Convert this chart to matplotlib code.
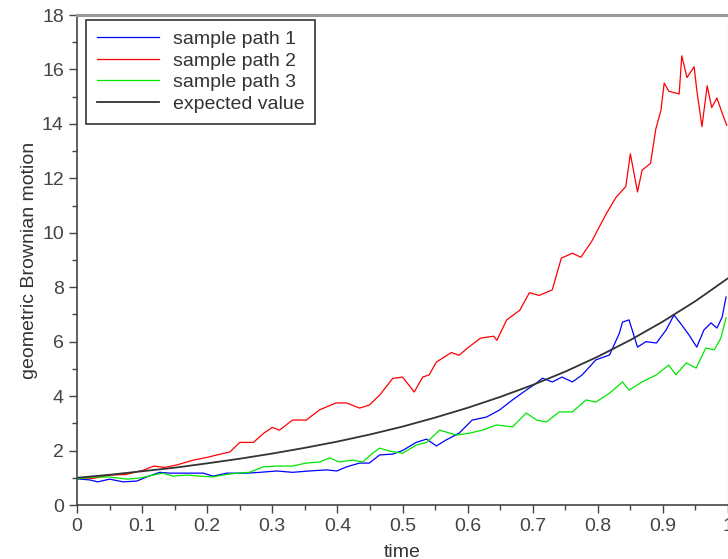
import matplotlib
matplotlib.use("Agg")
import matplotlib.pyplot as plt
from matplotlib.ticker import MultipleLocator

plt.rcParams['font.family'] = ['Liberation Sans', 'DejaVu Sans']

# values
t_path1 = [0, 0.02, 0.032, 0.05, 0.071, 0.092, 0.107, 0.127, 0.143, 0.169, 0.194, 0.209,
           0.23, 0.261, 0.281, 0.307, 0.331, 0.357, 0.383, 0.399, 0.414, 0.434, 0.449,
           0.465, 0.485, 0.5, 0.521, 0.537, 0.552, 0.567, 0.587, 0.607, 0.629, 0.649,
           0.669, 0.69, 0.706, 0.715, 0.73, 0.745, 0.761, 0.776, 0.797, 0.818, 0.833,
           0.838, 0.848, 0.861, 0.874, 0.89, 0.905, 0.917, 0.929, 0.94, 0.952, 0.963,
           0.974, 0.983, 0.991, 0.997]
y_path1 = [0.96, 0.92, 0.85, 0.95, 0.85, 0.88, 1.03, 1.2, 1.17, 1.17, 1.17, 1.06,
           1.17, 1.17, 1.2, 1.25, 1.2, 1.25, 1.29, 1.25, 1.4, 1.54, 1.54,
           1.84, 1.87, 2.0, 2.3, 2.42, 2.17, 2.39, 2.64, 3.12, 3.23, 3.49,
           3.86, 4.22, 4.48, 4.66, 4.52, 4.7, 4.52, 4.78, 5.33, 5.51, 6.3,
           6.72, 6.8, 5.8, 6.0, 5.95, 6.43, 6.98, 6.61, 6.25, 5.8, 6.43,
           6.69, 6.5, 6.9, 7.64]

t_path2 = [0, 0.025, 0.051, 0.075, 0.102, 0.118, 0.135, 0.153, 0.179, 0.2, 0.215, 0.235,
           0.25, 0.271, 0.287, 0.3, 0.311, 0.331, 0.352, 0.373, 0.398, 0.414, 0.434,
           0.449, 0.465, 0.485, 0.5, 0.506, 0.518, 0.531, 0.541, 0.552, 0.575, 0.587,
           0.6, 0.62, 0.64, 0.645, 0.66, 0.68, 0.695, 0.71, 0.73, 0.744, 0.761, 0.774,
           0.791, 0.802, 0.813, 0.828, 0.843, 0.85, 0.861, 0.868, 0.881, 0.889, 0.897,
           0.902, 0.909, 0.925, 0.929, 0.937, 0.948, 0.952, 0.96, 0.968, 0.975, 0.983,
           0.991, 0.998]
y_path2 = [1.0, 0.98, 1.1, 1.12, 1.28, 1.43, 1.38, 1.47, 1.65, 1.75, 1.84, 1.95,
           2.3, 2.3, 2.64, 2.85, 2.75, 3.12, 3.12, 3.5, 3.75, 3.75, 3.56,
           3.67, 4.04, 4.65, 4.7, 4.52, 4.15, 4.7, 4.78, 5.25, 5.6, 5.5,
           5.77, 6.13, 6.2, 6.05, 6.8, 7.15, 7.8, 7.7, 7.9, 9.07, 9.25, 9.1,
           9.7, 10.2, 10.7, 11.3, 11.7, 12.9, 11.5, 12.3, 12.55, 13.8, 14.5,
           15.5, 15.2, 15.1, 16.5, 15.7, 16.1, 15.25, 13.9, 15.4, 14.6, 14.95,
           14.4, 13.95]

t_path3 = [0, 0.025, 0.05, 0.077, 0.097, 0.117, 0.132, 0.147, 0.169, 0.189, 0.209, 0.224,
           0.245, 0.265, 0.286, 0.307, 0.331, 0.352, 0.373, 0.388, 0.403, 0.423, 0.439,
           0.454, 0.465, 0.48, 0.5, 0.521, 0.537, 0.557, 0.567, 0.583, 0.603, 0.623,
           0.644, 0.669, 0.69, 0.706, 0.721, 0.741, 0.761, 0.782, 0.797, 0.818, 0.838,
           0.848, 0.868, 0.89, 0.909, 0.92, 0.936, 0.951, 0.966, 0.979, 0.989, 0.997]
y_path3 = [0.96, 1.03, 1.03, 0.95, 0.99, 1.1, 1.17, 1.06, 1.1, 1.06, 1.03, 1.1,
           1.17, 1.2, 1.4, 1.43, 1.43, 1.54, 1.58, 1.73, 1.58, 1.65, 1.58,
           1.9, 2.09, 1.98, 1.9, 2.2, 2.3, 2.75, 2.68, 2.57, 2.64, 2.75,
           2.94, 2.87, 3.38, 3.12, 3.05, 3.42, 3.42, 3.86, 3.78, 4.11, 4.52,
           4.22, 4.52, 4.78, 5.14, 4.78, 5.22, 5.03, 5.77, 5.7, 6.13, 6.87]

t_expected = [0, 0.05, 0.1, 0.15, 0.2, 0.25, 0.3, 0.35, 0.4, 0.45, 0.5,
              0.55, 0.6, 0.65, 0.7, 0.75, 0.8, 0.85, 0.9, 0.95, 1.0]
y_expected = [1.0, 1.11, 1.24, 1.37, 1.53, 1.70, 1.89, 2.10, 2.33, 2.59, 2.88,
              3.21, 3.57, 3.97, 4.41, 4.90, 5.45, 6.06, 6.74, 7.49, 8.33]

fig = plt.figure(figsize=(7.28, 5.59), dpi=100)
ax = fig.add_axes([77/728, 54/559, 651/728, 490/559])

ax.plot(t_path1, y_path1, color='#0000ff', lw=0.9, label='sample path 1')
ax.plot(t_path2, y_path2, color='#ff0000', lw=0.9, label='sample path 2')
ax.plot(t_path3, y_path3, color='#00e600', lw=0.9, label='sample path 3')
ax.plot(t_expected, y_expected, color='#333333', lw=1.3, label='expected value')

ax.set_xlim(0, 1)
ax.set_ylim(0, 18)
ax.xaxis.set_major_locator(MultipleLocator(0.1))
ax.xaxis.set_minor_locator(MultipleLocator(0.05))
ax.yaxis.set_major_locator(MultipleLocator(2))
ax.yaxis.set_minor_locator(MultipleLocator(1))
ax.xaxis.set_major_formatter(plt.FuncFormatter(lambda v, p: '%g' % round(v, 2)))

ax.tick_params(which='major', direction='out', length=6, width=1, color='#444444',
               labelcolor='#444444', labelsize=14, top=False, right=False)
ax.tick_params(which='minor', direction='out', length=3.5, width=1, color='#444444',
               top=False, right=False)

for side in ['left', 'bottom']:
    ax.spines[side].set_color('#444444')
    ax.spines[side].set_linewidth(1.2)
ax.spines['top'].set_color('#999999')
ax.spines['top'].set_linewidth(2.2)
ax.spines['right'].set_color('#bbbbbb')

ax.set_xlabel('time', fontsize=14, color='#333333', labelpad=6)
ax.set_ylabel('geometric Brownian motion', fontsize=14, color='#333333', labelpad=3)

leg = ax.legend(loc='upper left', bbox_to_anchor=(9/651, 1 - 5/490), borderaxespad=0,
                fontsize=14, handlelength=3.2, handletextpad=0.7, labelspacing=0.2,
                borderpad=0.55, fancybox=False, framealpha=1)
leg.get_frame().set_edgecolor('#333333')
leg.get_frame().set_linewidth(1.2)
for txt in leg.get_texts():
    txt.set_color('#333333')

fig.savefig('out.png', dpi=100)
